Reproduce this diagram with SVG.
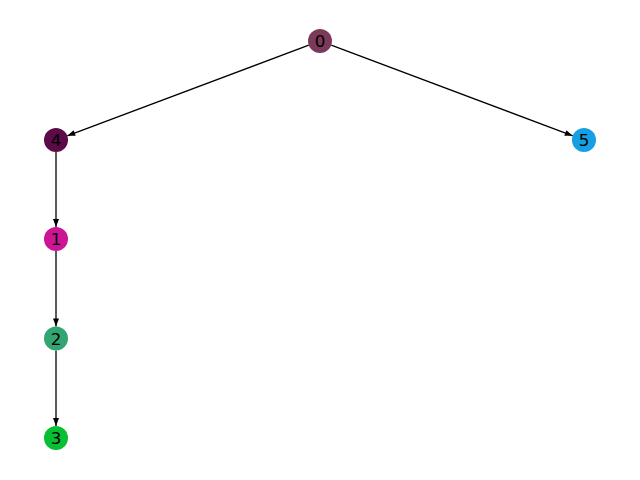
<svg xmlns="http://www.w3.org/2000/svg" width="640" height="480" viewBox="0 0 640 480">
<style>
.edge{stroke:#000;stroke-width:1.3;fill:none;marker-end:url(#ah)}
.lbl{font-family:"DejaVu Sans",sans-serif;font-size:16.7px;fill:#000;text-anchor:middle;dominant-baseline:central}
</style>
<defs>
<marker id="ah" markerUnits="userSpaceOnUse" markerWidth="10" markerHeight="8" viewBox="0 0 10 8" refX="9" refY="4" orient="auto">
<path d="M1,1 L9,4 L1,7 Z" fill="#000"/>
</marker>
</defs>
<rect width="640" height="480" fill="#fff"/>
<g id="edges">
<line class="edge" x1="308.8" y1="45.2" x2="67.2" y2="135.8"/>
<line class="edge" x1="331.2" y1="45.2" x2="572.8" y2="135.8"/>
<line class="edge" x1="56" y1="152" x2="56" y2="227"/>
<line class="edge" x1="56" y1="251" x2="56" y2="326.5"/>
<line class="edge" x1="56" y1="350.5" x2="56" y2="426"/>
</g>
<g id="node0"><circle cx="320" cy="41" r="12" fill="#7b3a59"/><text class="lbl" x="320" y="41">0</text></g>
<g id="node4"><circle cx="56" cy="140" r="12" fill="#5c0a48"/><text class="lbl" x="56" y="140">4</text></g>
<g id="node5"><circle cx="584" cy="140" r="12" fill="#16a0e2"/><text class="lbl" x="584" y="140">5</text></g>
<g id="node1"><circle cx="56" cy="239" r="12" fill="#cc1595"/><text class="lbl" x="56" y="239">1</text></g>
<g id="node2"><circle cx="56" cy="338.5" r="12" fill="#33a573"/><text class="lbl" x="56" y="338.5">2</text></g>
<g id="node3"><circle cx="56" cy="438" r="12" fill="#08bf33"/><text class="lbl" x="56" y="438">3</text></g>
</svg>
